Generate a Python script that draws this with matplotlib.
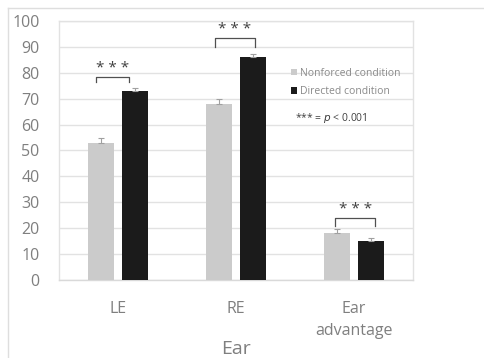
import numpy as np
import matplotlib
matplotlib.use("Agg")
import matplotlib.pyplot as plt
from matplotlib.lines import Line2D

# data
categories = ["LE", "RE", "Ear\nadvantage"]
nonforced = [53, 68, 18]
directed = [73, 86, 15]
nonforced_err = [1.8, 1.8, 1.5]
directed_err = [1.3, 1.3, 1.2]
series_labels = ["Nonforced condition", "Directed condition"]
# significance brackets: (left x offset, right x offset, leg bottom, bracket top)
brackets = [(-0.19, 0.09, 76.5, 78.5),
            (-0.18, 0.16, 90.0, 93.5),
            (-0.16, 0.18, 21.0, 24.0)]
sig_label = "* * *"

GRAY_TXT = "#7f7f7f"
GRID = "#e2e2e2"
C_NF = "#cbcbcb"
C_DIR = "#1b1b1b"

plt.rcParams["font.family"] = ["Open Sans", "DejaVu Sans"]

fig = plt.figure(figsize=(4.84, 3.58), dpi=100)
ax = fig.add_axes([0.1219, 0.2179, 0.7314, 0.7235])

x = np.arange(len(categories))
w = 0.22
off = 0.144
ax.bar(x - off, nonforced, w, color=C_NF, zorder=3, label=series_labels[0])
ax.bar(x + off, directed, w, color=C_DIR, zorder=3, label=series_labels[1])
ax.errorbar(x - off, nonforced, yerr=[np.zeros(3), nonforced_err], fmt="none",
            ecolor="#a0a0a0", elinewidth=0.8, capsize=2.5, capthick=0.8, zorder=4)
ax.errorbar(x + off, directed, yerr=[np.zeros(3), directed_err], fmt="none",
            ecolor="#a0a0a0", elinewidth=0.8, capsize=2.5, capthick=0.8, zorder=4)

for xi, (l, r, lo, hi) in zip(x, brackets):
    ax.plot([xi + l, xi + l, xi + r, xi + r], [lo, hi, hi, lo],
            color="#505050", lw=0.9, zorder=5)
    ax.text(xi + (l + r) / 2, hi + 3.2, sig_label, ha="center", va="center",
            fontsize=11, color="#404040", zorder=5)

ax.set_xlim(-0.5, 2.5)
ax.set_ylim(0, 100)
ax.set_yticks(np.arange(0, 101, 10))
ax.set_xticks(x)
ax.set_xticklabels(categories)
ax.tick_params(axis="y", length=0, pad=14, labelsize=11.5, labelcolor=GRAY_TXT)
ax.tick_params(axis="x", length=0, pad=15, labelsize=11.5, labelcolor=GRAY_TXT)
for lbl in ax.get_xticklabels():
    lbl.set_linespacing(1.55)
ax.yaxis.grid(True, color=GRID, lw=1.0, zorder=0)
ax.set_axisbelow(True)
for s in ax.spines.values():
    s.set_color(GRID)
    s.set_linewidth(1.0)
ax.spines["bottom"].set_color("#d9d9d9")

# axis title placed explicitly so it sits right at the bottom edge
fig.text(0.1219 + 0.7314 / 2, 4 / 358, "Ear", fontsize=14, color=GRAY_TXT,
         ha="center", va="baseline")

leg = ax.legend(loc="upper left", bbox_to_anchor=(0.64, 0.84), frameon=False,
                fontsize=7.5, handlelength=0.6, handleheight=0.6,
                handletextpad=0.3, labelspacing=0.75, borderpad=0)
for t in leg.get_texts():
    t.set_color("#8a8a8a")
ax.text(0.668, 0.625, r"*** = $p$ < 0.001", transform=ax.transAxes,
        fontsize=7.5, color="#404040", ha="left", va="center")

# outer chart frame (left and top edges visible)
fx = 8 / 484
fy = 1 - 8 / 358
fig.add_artist(Line2D([fx, fx], [0, fy], color="#dedede", lw=1.0))
fig.add_artist(Line2D([fx, 1], [fy, fy], color="#dedede", lw=1.0))

fig.savefig("out.png", dpi=100)
